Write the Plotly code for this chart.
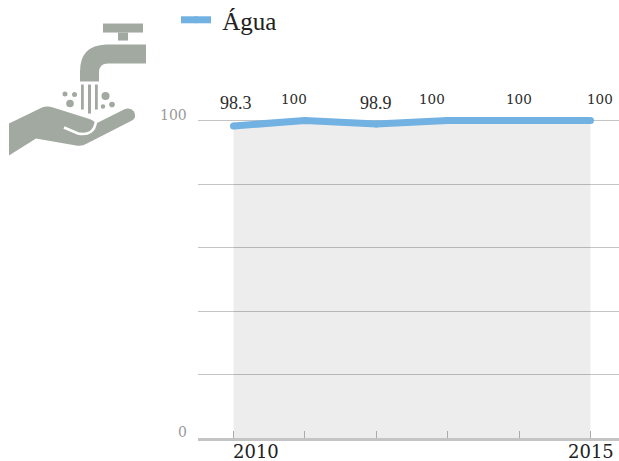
import base64
import plotly.graph_objects as go

years = [2010, 2011, 2012, 2013, 2014, 2015]
agua = [98.3, 100, 98.9, 100, 100, 100]
value_labels = ["98.3", "100", "98.9", "100", "100", "100"]
series_name = "\u00a0Água"
y_ticks = [0, 20, 40, 60, 80, 100]
y_tick_labels = {0: "0", 100: "100"}
x_edge_labels = [2010, 2015]

W, H = 619, 461
Y_TOP = 103
UNIT = 3.175
L, R, B = 198, 0, 22.5
T = 461 - B - Y_TOP * UNIT
PW, PH = W - L - R, H - T - B

BLUE = "#72b2e2"
GRID = "#c4c4c4"
ICON = "#a2a9a1"

icon_svg = f'''<svg xmlns="http://www.w3.org/2000/svg" width="150" height="160" viewBox="0 0 150 160">
<g fill="{ICON}">
<rect x="103" y="24" width="40" height="9"/><rect x="118" y="33" width="10" height="8"/>
<path d="M146 45 H106 Q80 46 80 72 V82 H99 V73 Q99 64 108 64 H146 Z"/>
<rect x="81" y="85" width="2.8" height="25"/><rect x="88" y="85" width="3" height="29"/><rect x="95" y="85" width="2.8" height="25"/>
<circle cx="65" cy="94.5" r="2.5"/><circle cx="74.5" cy="95" r="2.5"/><circle cx="70" cy="104" r="3.8"/>
<circle cx="105.5" cy="96.5" r="4"/><circle cx="112" cy="105" r="2.8"/><circle cx="103" cy="107" r="2.2"/>
<path d="M9 124 L42 108 Q47 106 53 108 L88 119 Q94 121 96 124 L124 110 Q130 107 134 112 Q137 118 132 121 L87 144 Q82 147 76 146 L36 139 L9 156 Z"/>
</g>
<path d="M64 128 L78 134 Q94 137 96 122" fill="none" stroke="#fff" stroke-width="2.6"/>
</svg>'''
icon_uri = "data:image/svg+xml;base64," + base64.b64encode(icon_svg.encode()).decode()

fig = go.Figure()
fig.add_trace(go.Scatter(x=years, y=agua, mode="none", fill="tozeroy",
                         fillcolor="rgba(0,0,0,0.072)", showlegend=False, hoverinfo="skip"))
fig.add_trace(go.Scatter(x=years, y=agua, mode="lines+markers", name=series_name, cliponaxis=False,
                         marker=dict(color=BLUE, size=7, line=dict(width=0)),
                         line=dict(color=BLUE, width=7, shape="linear")))

label_dx = [2, -11, 0, -16, 0, 9]
annotations = []
for yr, v, lab, dx in zip(years, agua, value_labels, label_dx):
    big = "." in lab
    annotations.append(dict(
        x=yr, y=100, xref="x", yref="y", text=lab, showarrow=False, xshift=dx,
        yshift=18 if big else 22,
        font=dict(family="Liberation Serif" if big else "DejaVu Serif", size=18 if big else 13.5, color="#2b2b2b")))
for v, t in y_tick_labels.items():
    annotations.append(dict(
        x=0, y=v, xref="paper", yref="y", text=t, showarrow=False, xanchor="right", xshift=-9, yshift=6,
        font=dict(family="DejaVu Serif", size=14, color="#999999")))
annotations.append(dict(x=x_edge_labels[0], y=0, xref="x", yref="y", text=str(x_edge_labels[0]), showarrow=False,
                        xanchor="left", yanchor="top", yshift=-1, xshift=-3, font=dict(family="DejaVu Serif", size=18, color="#222222")))
annotations.append(dict(x=x_edge_labels[1], y=0, xref="x", yref="y", text=str(x_edge_labels[1]), showarrow=False,
                        xanchor="center", yanchor="top", yshift=-1, font=dict(family="DejaVu Serif", size=18, color="#222222")))

fig.update_layout(
    width=W, height=H, autosize=False,
    margin=dict(l=L, r=R, t=T, b=B, pad=0, autoexpand=False),
    paper_bgcolor="white", plot_bgcolor="white",
    font=dict(family="Liberation Serif", color="#222222"),
    showlegend=True,
    legend=dict(x=(176 - L) / PW, y=1 + (T + 2.5) / PH, xanchor="left", yanchor="top",
                itemwidth=30, bgcolor="rgba(0,0,0,0)", font=dict(size=25, family="Liberation Serif", color="#222222")),
    xaxis=dict(range=[2010 - (233.5 - L) / 71.4, 2010 + (W - 233.5) / 71.4], tickvals=years, ticktext=[""] * 6,
               ticks="inside", ticklen=7, tickcolor="#aaaaaa", tickwidth=1, showgrid=False, zeroline=False,
               showline=True, linecolor=GRID, linewidth=3),
    yaxis=dict(range=[0, Y_TOP], tickvals=y_ticks, showticklabels=False, ticks="", showgrid=True,
               gridcolor=GRID, gridwidth=1, zeroline=False, showline=False),
    annotations=annotations,
    images=[dict(source=icon_uri, xref="paper", yref="paper", x=-L / PW, y=1 + T / PH,
                 sizex=150 / PW, sizey=160 / PH, xanchor="left", yanchor="top", sizing="stretch", layer="above")],
)
fig.write_html("out.html", config={"displayModeBar": False},
               post_script="document.body.style.margin='0';document.documentElement.style.overflow='hidden';")
